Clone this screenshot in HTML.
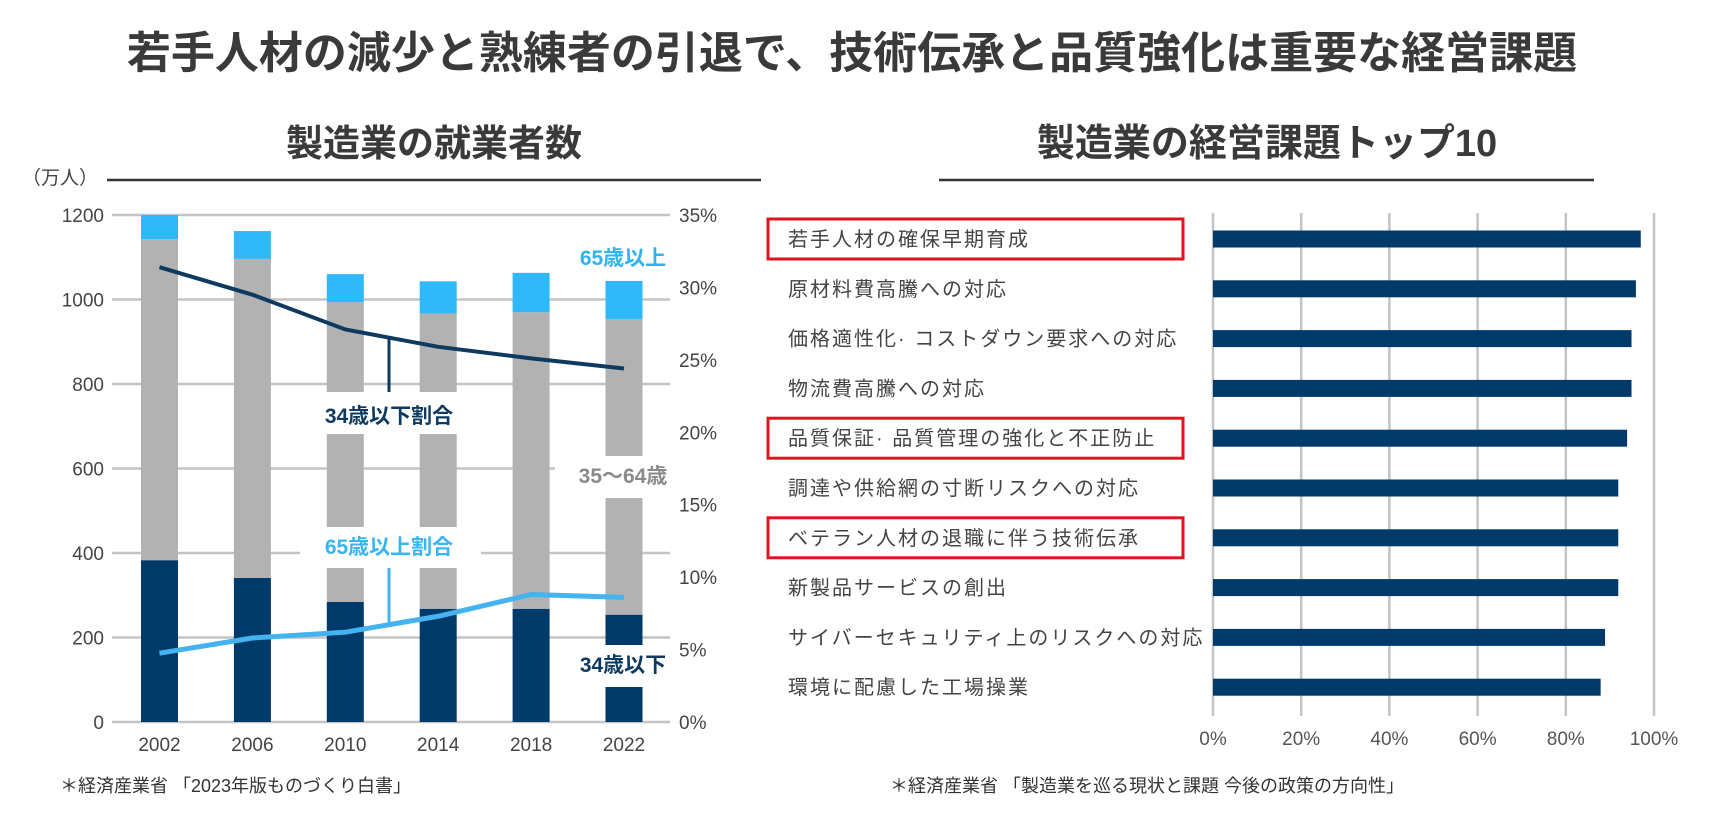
<!DOCTYPE html>
<html><head><meta charset="utf-8">
<style>
html,body{margin:0;padding:0;background:#fff;}
svg{display:block;}
text{font-family:"Liberation Sans","Noto Sans CJK JP",sans-serif;}
</style></head>
<body>
<svg id="root" width="1712" height="828" viewBox="0 0 1712 828" xmlns="http://www.w3.org/2000/svg">
  <text x="852" y="68" text-anchor="middle" font-size="44" font-weight="bold" fill="#3a3a3a">若手人材の減少と熟練者の引退で、技術伝承と品質強化は重要な経営課題</text>
  <text x="434" y="156" text-anchor="middle" font-size="37" font-weight="bold" fill="#3a3a3a">製造業の就業者数</text>
  <line x1="107" y1="180" x2="761" y2="180" stroke="#333" stroke-width="2.5"/>
  <text x="1267" y="156" text-anchor="middle" font-size="38" font-weight="bold" fill="#3a3a3a">製造業の経営課題トップ10</text>
  <line x1="939" y1="180" x2="1594" y2="180" stroke="#333" stroke-width="2.5"/>
  <text x="22" y="184" font-size="19" fill="#444">（万人）</text>
  <g id="left"></g>
  <g id="right"></g>
  <text x="60" y="792" font-size="18" fill="#333">＊経済産業省 「2023年版ものづくり白書」</text>
  <text x="890" y="792" font-size="18" fill="#333">＊経済産業省 「製造業を巡る現状と課題 今後の政策の方向性」</text>
</svg>
<script>
// ---- left chart data ----
const years = ["2002","2006","2010","2014","2018","2022"];
const young = [383, 341, 284, 268, 268, 254];
const middleTop = [1143, 1096, 994, 967, 970, 954];
const totalTop = [1200, 1162, 1060, 1043, 1063, 1044];
const youngShare = [31.4, 29.5, 27.1, 25.9, 25.1, 24.4];
const seniorShare = [4.75, 5.8, 6.2, 7.3, 8.8, 8.6];
const leftTicks = [0, 200, 400, 600, 800, 1000, 1200];
const rightTicks = [0, 5, 10, 15, 20, 25, 30, 35];
// ---- right chart data ----
const issues = ["若手人材の確保早期育成","原材料費高騰への対応","価格適性化· コストダウン要求への対応","物流費高騰への対応","品質保証· 品質管理の強化と不正防止","調達や供給網の寸断リスクへの対応","ベテラン人材の退職に伴う技術伝承","新製品サービスの創出","サイバーセキュリティ上のリスクへの対応","環境に配慮した工場操業"];
const issueValues = [97.0, 95.9, 94.9, 94.9, 93.9, 91.9, 91.9, 91.9, 88.9, 87.9];
const highlighted = [0, 4, 6];
const pctTicks = [0, 20, 40, 60, 80, 100];

const NS = "http://www.w3.org/2000/svg";
function mk(tag, attrs, parent){const e=document.createElementNS(NS,tag);for(const k in attrs)e.setAttribute(k,attrs[k]);parent.appendChild(e);return e;}

// ---- left chart ----
const L = document.getElementById('left');
const y0 = 722, y1 = 215;
const yL = v => y0 - (v/1200)*(y0-y1);
const yR = p => y0 - (p/35)*(y0-y1);
const xC = i => 159.5 + 92.9*i;
const bw = 37;
leftTicks.forEach(t=>{
  const g = mk('line',{x1:112,x2:670,y1:yL(t),y2:yL(t),stroke:'#c4c4c4','stroke-width':2.5},L);
  
  
  const tx = mk('text',{x:104,y:yL(t)+7,'text-anchor':'end','font-size':19,fill:'#444'},L);
  tx.textContent = t;
  
  
});
rightTicks.forEach(t=>{
  const tx = mk('text',{x:679,y:yR(t)+7,'font-size':19,fill:'#444'},L);
  tx.textContent = t+'%';
  
  
});
years.forEach((yr,i)=>{
  const x = xC(i)-bw/2;
  const r1 = mk('rect',{x:x,y:yL(young[i]),width:bw,height:yL(0)-yL(young[i]),fill:'#003a6b'},L);
  
  
  const r2 = mk('rect',{x:x,y:yL(middleTop[i]),width:bw,height:yL(young[i])-yL(middleTop[i]),fill:'#b2b2b2'},L);
  
  
  const r3 = mk('rect',{x:x,y:yL(totalTop[i]),width:bw,height:yL(middleTop[i])-yL(totalTop[i]),fill:'#2fb8fa'},L);
  
  
  const tx = mk('text',{x:xC(i),y:751,'text-anchor':'middle','font-size':19,fill:'#444'},L);
  tx.textContent = yr;
  
  
});
// white label boxes
[[300,392,181,42],[300,527,181,41],[555,456,116,42],[555,645,116,42]].forEach(b=>{
  const r = mk('rect',{x:b[0],y:b[1],width:b[2],height:b[3],fill:'#fff'},L);
  
  
});
function ptsOf(arr){return arr.map((v,i)=>xC(i)+','+yR(v)).join(' ');}
const l1 = mk('polyline',{points:ptsOf(youngShare),fill:'none',stroke:'#0e3a5f','stroke-width':4,'stroke-linejoin':'round'},L);


const l2 = mk('polyline',{points:ptsOf(seniorShare),fill:'none',stroke:'#45b3f0','stroke-width':5,'stroke-linejoin':'round'},L);


function interp(arr,x){const t=(x-xC(2))/(xC(3)-xC(2));return arr[2]+(arr[3]-arr[2])*t;}
const lx = 389;
const ld1 = mk('line',{x1:lx,x2:lx,y1:yR(interp(youngShare,lx)),y2:392,stroke:'#0e3a5f','stroke-width':3},L);


const ld2 = mk('line',{x1:lx,x2:lx,y1:568,y2:yR(interp(seniorShare,lx)),stroke:'#45b3f0','stroke-width':3},L);


[["34歳以下割合",389,423,'#0e3a5f','under-34-share-label'],["65歳以上割合",389,554,'#3ab4f2','65-plus-share-label'],["65歳以上",623,265,'#2fb2f0','65-plus-label'],["35〜64歳",623,483,'#8a8a8a','35-64-label'],["34歳以下",623,672,'#0e3a5f','under-34-label']].forEach(d=>{
  const tx = mk('text',{x:d[1],y:d[2],'text-anchor':'middle','font-size':21,'font-weight':'bold',fill:d[3]},L);
  tx.textContent = d[0];
  
  
});

// ---- right chart ----
const R = document.getElementById('right');
const x0 = 1213, x100 = 1654;
const xP = p => x0 + (p/100)*(x100-x0);
const yB = i => 239 + 49.8*i;
pctTicks.forEach(t=>{
  const g = mk('line',{x1:xP(t),x2:xP(t),y1:213,y2:716,stroke:'#c4c4c4','stroke-width':2.5},R);
  
  
  const tx = mk('text',{x:xP(t),y:745,'text-anchor':'middle','font-size':19,fill:'#555'},R);
  tx.textContent = t+'%';
  
  
});
issues.forEach((name,i)=>{
  const r = mk('rect',{x:x0,y:yB(i)-8.5,width:xP(issueValues[i])-x0,height:17,fill:'#003a6b'},R);
  
  
  const tx = mk('text',{x:788,y:yB(i)+7,'font-size':20,fill:'#444','letter-spacing':'2'},R);
  tx.textContent = name;
  
  
});
highlighted.forEach(i=>{
  const b = mk('rect',{x:768,y:yB(i)-20,width:415,height:40,fill:'none',stroke:'#e0141e','stroke-width':3},R);
  
  
});
</script>
</body></html>
